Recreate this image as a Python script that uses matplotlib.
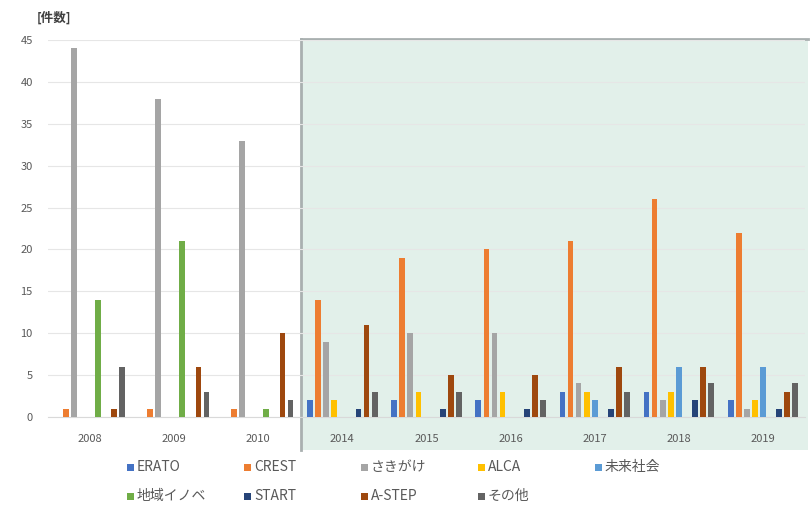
import matplotlib
matplotlib.use("Agg")
import matplotlib.pyplot as plt
import numpy as np
from matplotlib.patches import Rectangle
from matplotlib.lines import Line2D

plt.rcParams['font.family'] = ['Noto Sans CJK JP', 'DejaVu Sans']

years = ["2008", "2009", "2010", "2014", "2015", "2016", "2017", "2018", "2019"]
series_names = ["ERATO", "CREST", "さきがけ", "ALCA", "未来社会",
                "地域イノベ", "START", "A-STEP", "その他"]

erato     = [0, 0, 0, 2, 2, 2, 3, 3, 2]
crest     = [1, 1, 1, 14, 19, 20, 21, 26, 22]
sakigake  = [44, 38, 33, 9, 10, 10, 4, 2, 1]
alca      = [0, 0, 0, 2, 3, 3, 3, 3, 2]
mirai     = [0, 0, 0, 0, 0, 0, 2, 6, 6]
chiiki    = [14, 21, 1, 0, 0, 0, 0, 0, 0]
start     = [0, 0, 0, 1, 1, 1, 1, 2, 1]
astep     = [1, 6, 10, 11, 5, 5, 6, 6, 3]
sonota    = [6, 3, 2, 3, 3, 2, 3, 4, 4]

values = [erato, crest, sakigake, alca, mirai, chiiki, start, astep, sonota]
colors = ["#4472C4", "#ED7D31", "#A5A5A5", "#FFC000", "#5B9BD5",
          "#70AD47", "#264478", "#9E480E", "#636363"]

W, H = 810, 511
fig = plt.figure(figsize=(W / 100, H / 100), dpi=100)
fig.patch.set_facecolor("white")

# highlighted period (2014 onward)
shade = Rectangle((301 / W, (H - 450) / H), (808 - 301) / W, (450 - 39) / H,
                  transform=fig.transFigure, facecolor="#e2f0ea",
                  edgecolor="none", zorder=0)
fig.patches.append(shade)
fig.add_artist(Line2D([301 / W, 808 / W], [(H - 39) / H] * 2,
                      transform=fig.transFigure, color="#a9b0b0", lw=2, zorder=1))
fig.add_artist(Line2D([301 / W] * 2, [(H - 450) / H, (H - 39) / H],
                      transform=fig.transFigure, color="#a9b0b0", lw=2, zorder=1))

ax = fig.add_axes([48 / W, (H - 417) / H, (805 - 48) / W, (417 - 40) / H])
ax.set_facecolor("none")
ax.set_zorder(5)

x = np.arange(len(years))
step = 0.096
width = 0.068
n = len(series_names)
for i, (name, vals, c) in enumerate(zip(series_names, values, colors)):
    ax.bar(x + (i - (n - 1) / 2) * step, vals, width=width, color=c,
           label=name, zorder=3)

ax.set_xlim(-0.5, len(years) - 0.5)
ax.set_ylim(0, 45)
ax.set_yticks(np.arange(0, 46, 5))
ax.set_xticks(x)
ax.set_xticklabels(years)
ax.tick_params(axis="both", length=0, labelsize=8, colors="#595959")
ax.tick_params(axis="y", pad=11)
ax.tick_params(axis="x", pad=12)
ax.grid(axis="y", color="#e6e6e6", lw=0.8, zorder=0)
for s in ["top", "right", "left"]:
    ax.spines[s].set_visible(False)
ax.spines["bottom"].set_color("#d9d9d9")

fig.text(37 / W, (H - 18) / H, "[件数]", fontsize=9, fontweight="bold",
         color="#404040", va="center", ha="left")

# legend: 5 entries per row, evenly spaced
col_x0, col_dx = 127, 117
row_y0, row_dy = 467, 29
sq = 7
for i, (name, c) in enumerate(zip(series_names, colors)):
    cx = col_x0 + (i % 5) * col_dx
    cy = row_y0 + (i // 5) * row_dy
    fig.add_artist(Rectangle((cx / W, (H - cy - sq / 2) / H), sq / W, sq / H,
                             transform=fig.transFigure, facecolor=c,
                             edgecolor="none", zorder=6))
    fig.text((cx + sq + 3) / W, (H - cy) / H, name, fontsize=10,
             color="#595959", va="center", ha="left", zorder=6)

fig.savefig("out.png", dpi=100)
